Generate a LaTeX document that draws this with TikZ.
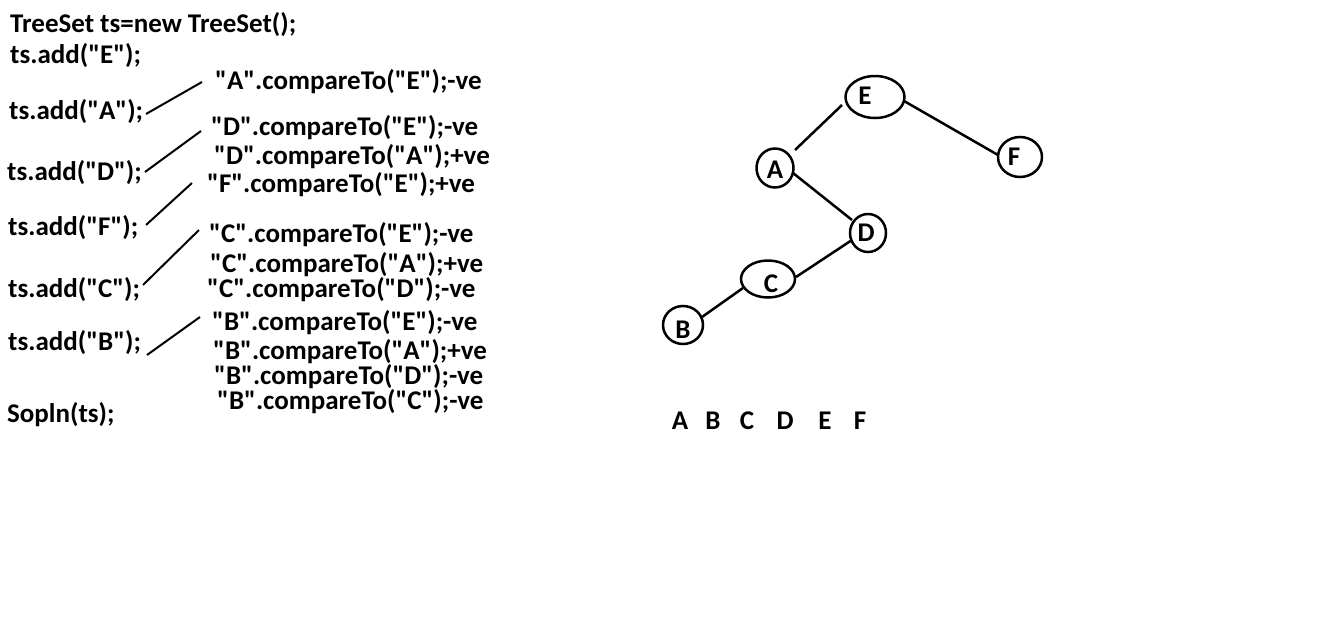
\documentclass[tikz,border=0pt]{standalone}
\usepackage{fontspec}
\setmainfont{Carlito}[Ligatures=TeXOff]
\usetikzlibrary{shapes.geometric}
\begin{document}
\begin{tikzpicture}[x=1pt,y=-1pt,
  code/.style={anchor=base west,inner sep=0pt,font=\fontsize{27}{32}\selectfont\bfseries},
  tnode/.style={draw,ellipse,line width=2.5pt,inner sep=0pt},
  lbl/.style={font=\fontsize{27}{32}\selectfont\bfseries},
  link/.style={line width=2pt},
  edge/.style={line width=2.5pt}]
\useasboundingbox[fill=white] (0,0) rectangle (1327,629);
% left column
\node[code] (decl) at (10,32) {TreeSet ts=new TreeSet();};
\node[code] (addE) at (10,63) {ts.add("E");};
\node[code] (addA) at (9,119) {ts.add("A");};
\node[code] (addD) at (7,180) {ts.add("D");};
\node[code] (addF) at (8,235) {ts.add("F");};
\node[code] (addC) at (8,297) {ts.add("C");};
\node[code] (addB) at (8,350) {ts.add("B");};
\node[code] (sop) at (7,422) {Sopln(ts);};
% comparisons
\node[code] (cAE) at (215,89) {"A".compareTo("E");-ve};
\node[code] (cDE) at (211,135) {"D".compareTo("E");-ve};
\node[code] (cDA) at (214,164) {"D".compareTo("A");+ve};
\node[code] (cFE) at (207,192) {"F".compareTo("E");+ve};
\node[code] (cCE) at (209,242) {"C".compareTo("E");-ve};
\node[code] (cCA) at (210,272) {"C".compareTo("A");+ve};
\node[code] (cCD) at (207,297) {"C".compareTo("D");-ve};
\node[code] (cBE) at (212,330) {"B".compareTo("E");-ve};
\node[code] (cBA) at (213,359) {"B".compareTo("A");+ve};
\node[code] (cBD) at (214,384) {"B".compareTo("D");-ve};
\node[code] (cBC) at (217,409) {"B".compareTo("C");-ve};
% pointer lines
\coordinate (pA1) at (146,114); \coordinate (pA2) at (202,82);
\coordinate (pD1) at (145,172); \coordinate (pD2) at (201,131);
\coordinate (pF1) at (146,225); \coordinate (pF2) at (192,183);
\coordinate (pC1) at (143,285); \coordinate (pC2) at (199,230);
\coordinate (pB1) at (147,355); \coordinate (pB2) at (200,317);
\draw[link] (pA1) -- (pA2);
\draw[link] (pD1) -- (pD2);
\draw[link] (pF1) -- (pF2);
\draw[link] (pC1) -- (pC2);
\draw[link] (pB1) -- (pB2);
% tree
\node[tnode,minimum width=59pt,minimum height=42pt,label={[lbl,xshift=-10pt,yshift=1pt]center:E}] (E) at (875,97) {};
\node[tnode,minimum width=37pt,minimum height=39pt,label={[lbl,yshift=-2pt]center:A}] (A) at (775,168) {};
\node[tnode,minimum width=44pt,minimum height=40pt,label={[lbl,xshift=-6pt]center:F}] (F) at (1020,157) {};
\node[tnode,minimum width=36pt,minimum height=38pt,label={[lbl,xshift=-2pt]center:D}] (D) at (868,233) {};
\node[tnode,minimum width=54pt,minimum height=37pt,label={[lbl,xshift=3pt,yshift=-5pt]center:C}] (C) at (768,279) {};
\node[tnode,minimum width=40pt,minimum height=38pt,label={[lbl,yshift=-5pt]center:B}] (B) at (683,325) {};
\draw[edge] ([shift={(-33,8)}]E.center) -- ([shift={(20,-18)}]A.center);
\draw[edge] ([shift={(29,4)}]E.center) -- ([shift={(-22,-2)}]F.center);
\draw[edge] ([shift={(18,5)}]A.center) -- ([shift={(-16,-13)}]D.center);
\draw[edge] ([shift={(-16,7)}]D.center) -- ([shift={(28,-2)}]C.center);
\draw[edge] ([shift={(-25,9)}]C.center) -- ([shift={(19,-8)}]B.center);
% sorted output
\node[lbl,anchor=base] (oA) at (680,429) {A};
\node[lbl,anchor=base] (oB) at (713,429) {B};
\node[lbl,anchor=base] (oC) at (747,429) {C};
\node[lbl,anchor=base] (oD) at (785,429) {D};
\node[lbl,anchor=base] (oE) at (825,429) {E};
\node[lbl,anchor=base] (oF) at (860,429) {F};
\end{tikzpicture}
\end{document}
